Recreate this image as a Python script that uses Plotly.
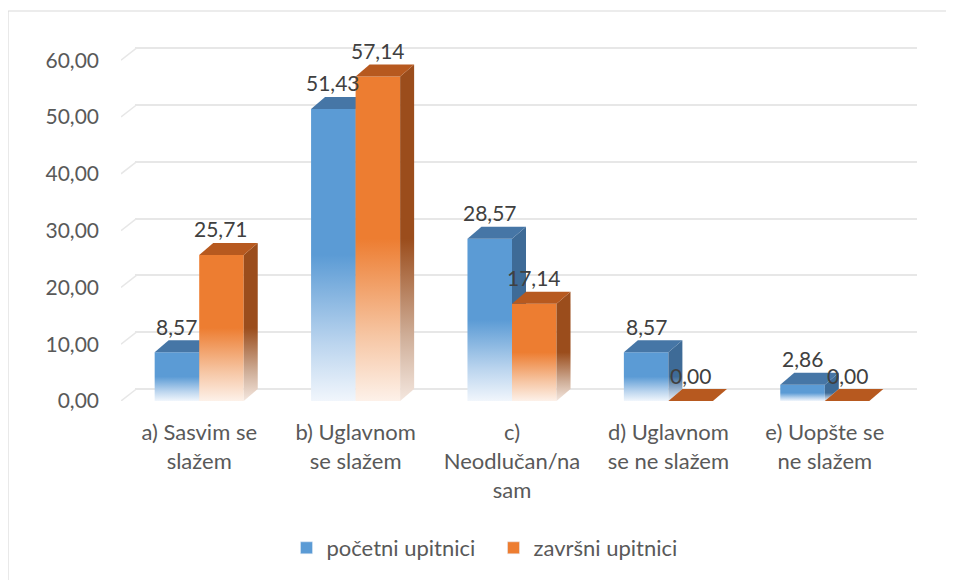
import plotly.graph_objects as go

# ---------------- data ----------------
categories = [
    "a) Sasvim se<br>slažem",
    "b) Uglavnom<br>se slažem",
    "c)<br>Neodlučan/na<br>sam",
    "d) Uglavnom<br>se ne slažem",
    "e) Uopšte se<br>ne slažem",
]
pocetni = [8.57, 51.43, 28.57, 8.57, 2.86]
zavrsni = [25.71, 57.14, 17.14, 0.00, 0.00]
series_names = ["početni upitnici", "završni upitnici"]
y_ticks = [0, 10, 20, 30, 40, 50, 60]

# ---------------- geometry / style ----------------
VIEW_W, VIEW_H = 954, 580
PAGE = 8                      # browser body margin
W, H = VIEW_W - PAGE, VIEW_H - PAGE
FONT = "Lato"
LEFT_REF = 121.35             # plot left edge in page pixels
BOTTOM_REF = 401              # value 0 in page pixels
PX_PER_CAT = 156.3
PX_PER_UNIT = 5.68
Y_TOP = 62.5
DEPTH_X, DEPTH_Y = 14, 12
n = len(categories)
plot_w_front = PX_PER_CAT * n
plot_w = plot_w_front + DEPTH_X
plot_h = Y_TOP * PX_PER_UNIT
ML = LEFT_REF - PAGE
MB = H - (BOTTOM_REF - PAGE)
MT = H - MB - plot_h
MR = W - ML - plot_w

def cx(page_x):   # page pixel -> container x
    return (page_x - PAGE) / W

def cy(page_y):   # page pixel -> container y
    return 1 - (page_y - PAGE) / H

dx = DEPTH_X / PX_PER_CAT
dy = DEPTH_Y / PX_PER_UNIT
bar_w = 44.5 / PX_PER_CAT

styles = [
    dict(front=[[0, "#f1f6fc"], [0.2, "#bad4ee"], [0.5, "#5b9bd5"], [1, "#5b9bd5"]],
         side=[[0, "#e9eff6"], [0.2, "#a9bfd6"], [0.5, "#3e6b97"], [1, "#3e6b97"]],
         top="#4676a6", solid="#5b9bd5"),
    dict(front=[[0, "#fdf1e9"], [0.2, "#f6c6a4"], [0.5, "#ed7d31"], [1, "#ed7d31"]],
         side=[[0, "#f4e7df"], [0.2, "#cfae98"], [0.5, "#9b4d1c"], [1, "#9b4d1c"]],
         top="#b7591f", solid="#ed7d31"),
]

fig = go.Figure()

# back-wall grid subplot (x / y), drawn first so it lies below the bars
fig.add_trace(go.Scatter(x=[0], y=[0], xaxis="x", yaxis="y", mode="markers",
                         marker=dict(opacity=0), hoverinfo="skip", showlegend=False))

# left wall stubs for each gridline (bars subplot x2 / y2)
sx, sy = [], []
for v in y_ticks:
    sx += [-0.5, -0.5 + 1.1 * dx, None]
    sy += [v, v + dy, None]
fig.add_trace(go.Scatter(x=sx, y=sy, xaxis="x2", yaxis="y2", mode="lines",
                         line=dict(color="#e7e7e7", width=1.5),
                         hoverinfo="skip", showlegend=False))

annotations = []
for s, (vals, st) in enumerate(zip([pocetni, zavrsni], styles)):
    for i, v in enumerate(vals):
        x0 = i - bar_w if s == 0 else i
        x1 = x0 + bar_w
        if v > 0:
            fig.add_trace(go.Scatter(
                x=[x0, x1, x1, x0, x0], y=[0, 0, v, v, 0], xaxis="x2", yaxis="y2",
                mode="lines", fill="toself", line=dict(width=0),
                fillgradient=dict(type="vertical", colorscale=st["front"], start=0, stop=v),
                hoverinfo="skip", showlegend=False))
            fig.add_trace(go.Scatter(
                x=[x1, x1 + dx, x1 + dx, x1, x1], y=[0, dy, v + dy, v, 0], xaxis="x2", yaxis="y2",
                mode="lines", fill="toself", line=dict(width=0),
                fillgradient=dict(type="vertical", colorscale=st["side"], start=0, stop=v),
                hoverinfo="skip", showlegend=False))
        fig.add_trace(go.Scatter(
            x=[x0, x1, x1 + dx, x0 + dx, x0], y=[v, v, v + dy, v + dy, v], xaxis="x2", yaxis="y2",
            mode="lines", fill="toself", line=dict(width=0), fillcolor=st["top"],
            hoverinfo="skip", showlegend=False))
        annotations.append(dict(
            x=(x0 + x1) / 2, y=v, xref="x2", yref="y2", yshift=26, showarrow=False,
            text=f"{v:.2f}".replace(".", ","), font=dict(family=FONT, size=21, color="#404040")))

# legend entries
for name, st in zip(series_names, styles):
    fig.add_trace(go.Bar(x=[None], y=[None], xaxis="x2", yaxis="y2",
                         name=name, marker_color=st["solid"]))

# chart border: only the top and left edges fall inside the picture
border = dict(color="#d9d9d9", width=1)
shapes = [
    dict(type="line", xref="paper", yref="paper",
         x0=(8.5 - LEFT_REF) / plot_w, x1=(VIEW_W + 20 - LEFT_REF) / plot_w,
         y0=(BOTTOM_REF - 11) / plot_h, y1=(BOTTOM_REF - 11) / plot_h, line=border),
    dict(type="line", xref="paper", yref="paper",
         x0=(8.5 - LEFT_REF) / plot_w, x1=(8.5 - LEFT_REF) / plot_w,
         y0=(BOTTOM_REF - 11) / plot_h, y1=(BOTTOM_REF - VIEW_H - 20) / plot_h, line=border),
]

fig.update_layout(
    width=W, height=H,
    margin=dict(l=ML, r=MR, t=MT, b=MB, pad=0, autoexpand=False),
    paper_bgcolor="white", plot_bgcolor="rgba(0,0,0,0)",
    separators=",.",
    font=dict(family=FONT, size=21, color="#595959"),
    # grid axes (back wall, shifted by the 3D depth)
    xaxis=dict(domain=[DEPTH_X / plot_w, 1], range=[-0.5, n - 0.5], anchor="y",
               showgrid=False, zeroline=False, showticklabels=False, showline=False, ticks="",
               automargin=False),
    yaxis=dict(domain=[0, 1], range=[-dy, Y_TOP - dy], tickvals=y_ticks, anchor="x",
               showgrid=True, gridcolor="#e7e7e7", gridwidth=1.5,
               zeroline=False, showticklabels=False, showline=False, ticks="",
               automargin=False),
    # bar axes (front)
    xaxis2=dict(domain=[0, plot_w_front / plot_w], range=[-0.5, n - 0.5], anchor="y2",
                tickvals=list(range(n)), ticktext=categories,
                showgrid=False, zeroline=False, showline=False,
                ticks="outside", ticklen=12, tickcolor="rgba(0,0,0,0)",
                tickfont=dict(family=FONT, size=22, color="#595959"), automargin=False),
    yaxis2=dict(domain=[0, 1], range=[0, Y_TOP], tickvals=y_ticks, tickformat=".2f", anchor="x2",
                showgrid=False, zeroline=False, showline=False,
                ticks="", ticklabelstandoff=21,
                tickfont=dict(family=FONT, size=21, color="#595959"), automargin=False),
    legend=dict(orientation="h", xref="container", yref="container",
                x=cx(311.5 - 25), xanchor="left",
                y=cy(548), yanchor="middle",
                font=dict(family=FONT, size=22, color="#595959"),
                itemwidth=30, entrywidth=162, entrywidthmode="pixels",
                bgcolor="rgba(0,0,0,0)"),
    annotations=annotations,
    shapes=shapes,
    showlegend=True,
)

fig.write_html("out.html")
